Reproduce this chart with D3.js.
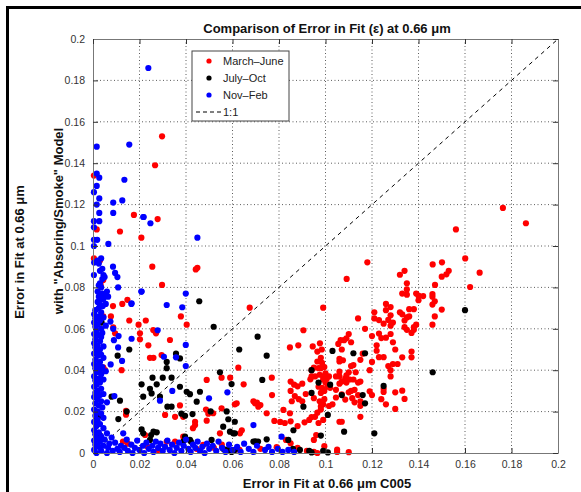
<!DOCTYPE html>
<html>
<head>
<meta charset="utf-8">
<script src="https://cdn.jsdelivr.net/npm/d3@7"></script>
<style>
	body { margin: 0; background: #fff; }
	svg { font-family: "Liberation Sans", Arial, Helvetica, sans-serif; }
	.tick text { fill: #333; font-size: 10.5px; }
</style>
</head>
<body>
<div id="chart"></div>
<script>
// tick values for both axes
var xTicks = [0, 0.02, 0.04, 0.06, 0.08, 0.1, 0.12, 0.14, 0.16, 0.18, 0.2];
var yTicks = [0, 0.02, 0.04, 0.06, 0.08, 0.1, 0.12, 0.14, 0.16, 0.18, 0.2];
var seriesNames = ["March\u2013June", "July\u2013Oct", "Nov\u2013Feb"];
var seriesColors = ["#ff0000", "#000000", "#0000ff"];

// March-June (red)
var marchJune = [
 [0.0297,0.153],[0.0267,0.139],[0.0004,0.134],[0.0176,0.115],[0.0278,0.113],[0.0016,0.108],[0.0116,0.107],[0.0208,0.104],
 [0.003,0.093],[0.0004,0.094],[0.0086,0.071],[0.0126,0.072],[0.0148,0.074],
 [0.0255,0.090],[0.0442,0.0887],[0.0449,0.0895],[0.0297,0.0812],
 [0.0674,0.0702],[0.099,0.0702],[0.0077,0.066],[0.0156,0.064],[0.0227,0.064],[0.0378,0.066],[0.0403,0.062],[0.0196,0.062],
 [0.0087,0.0607],[0.0095,0.0578],[0.0259,0.0594],[0.0271,0.0578],[0.0202,0.0578],[0.0202,0.0549],[0.0905,0.0593],[0.0238,0.052],
 [0.0331,0.0546],[0.0847,0.051],[0.0883,0.052],[0.0976,0.053],[0.0984,0.050],[0.0295,0.0473],[0.0245,0.046],[0.026,0.046],
 [0.0123,0.040],[0.0625,0.0412],[0.0489,0.0353],[0.0553,0.0364],[0.059,0.0364],[0.0648,0.0332],[0.0769,0.0364],
 [0.085,0.0345],[0.0865,0.033],[0.088,0.0322],[0.090,0.0335],[0.085,0.030],[0.0868,0.0275],[0.0885,0.026],[0.0915,0.0285],[0.090,0.025],[0.0855,0.025],
 [0.098,0.041],[0.1,0.0385],[0.099,0.0355],[0.097,0.032],[0.098,0.029],[0.0995,0.026],[0.098,0.0225],
 [0.0486,0.021],[0.0496,0.019],[0.069,0.025],[0.0705,0.0243],[0.072,0.0232],[0.077,0.028],[0.0517,0.0192],[0.0439,0.0151],
 [0.0439,0.0135],[0.0489,0.0156],[0.0142,0.0204],[0.0142,0.0185],[0.0374,0.023],[0.061,0.0235],[0.064,0.011],
 [0.078,0.0155],[0.0805,0.015],[0.0825,0.0145],[0.085,0.0153],[0.088,0.013],[0.091,0.0148],[0.093,0.016],[0.097,0.0145],[0.099,0.016],
 [0.083,0.0063],[0.085,0.0047],[0.0016,0.019],[0.0016,0.016],[0.0044,0.0414],[0.0052,0.040],[0.0044,0.0836],[0.0033,0.0812],
 [0.0044,0.066],[0.0129,0.0055],[0.043,0.012],[0.0819,0.0208],[0.0847,0.0192],
 [0.031,0.0184],[0.0353,0.0175],[0.0388,0.0175],[0.0553,0.0216],[0.0546,0.0095],[0.0632,0.0095],[0.0224,0.0087],
 [0.0317,0.0055],[0.0353,0.0055],[0.0388,0.0079],[0.0474,0.0039],[0.0618,0.024],[0.0697,0.024],[0.0711,0.0224],[0.0747,0.0192],[0.0554,0.004],
 [0.015,0.0045],[0.0235,0.003],[0.028,0.0015],[0.0445,0.002],[0.052,0.0025],[0.063,0.0015],[0.072,0.002],[0.079,0.0028],[0.088,0.0025],[0.092,0.001],
 [0.1862,0.111],[0.1561,0.108],[0.1763,0.1184],[0.118,0.0921],[0.1091,0.0841],[0.1601,0.094],[0.1663,0.0871],[0.1622,0.0802],
 [0.1461,0.0911],[0.1501,0.0921],[0.153,0.088],[0.152,0.0863],[0.150,0.0852],[0.1471,0.0812],[0.132,0.0861],[0.134,0.088],
 [0.135,0.082],[0.135,0.079],[0.133,0.077],[0.135,0.0765],[0.139,0.077],[0.140,0.076],[0.142,0.0758],[0.140,0.0738],
 [0.146,0.0768],[0.146,0.0755],[0.147,0.0733],[0.146,0.0717],[0.150,0.0693],[0.147,0.066],[0.146,0.062],
 [0.126,0.072],[0.128,0.0705],[0.126,0.069],[0.128,0.0665],[0.127,0.0643],[0.128,0.0615],[0.129,0.063],
 [0.132,0.068],[0.133,0.067],[0.134,0.064],[0.135,0.0655],[0.136,0.0695],[0.136,0.066],[0.135,0.0595],[0.134,0.0608],
 [0.138,0.0608],[0.138,0.0695],[0.138,0.0595],[0.139,0.062],[0.137,0.058],
 [0.121,0.068],[0.121,0.065],[0.123,0.0642],[0.125,0.0625],[0.114,0.065],[0.117,0.060],
 [0.110,0.0575],[0.111,0.0535],[0.108,0.0545],[0.1065,0.0545],[0.1055,0.0527],
 [0.120,0.0565],[0.123,0.0577],[0.124,0.0555],[0.126,0.0557],[0.128,0.0575],[0.129,0.0535],[0.130,0.050],
 [0.122,0.052],[0.122,0.0494],[0.123,0.0463],[0.125,0.0463],[0.127,0.042],[0.128,0.040],[0.129,0.043],[0.128,0.037],
 [0.131,0.043],[0.133,0.0462],[0.137,0.049],[0.137,0.0462],
 [0.120,0.044],[0.119,0.040],[0.115,0.045],[0.116,0.048],
 [0.111,0.042],[0.112,0.0425],[0.110,0.039],[0.109,0.0375],[0.113,0.039],[0.112,0.0355],[0.1105,0.0355],[0.114,0.034],[0.115,0.0345],[0.109,0.034],
 [0.106,0.0455],[0.106,0.0442],[0.1075,0.0448],[0.106,0.0393],[0.106,0.037],[0.107,0.0345],[0.1085,0.036],[0.106,0.0335],
 [0.1045,0.037],[0.1015,0.037],[0.1005,0.0357],[0.099,0.037],[0.0975,0.0378],[0.0955,0.037],[0.094,0.037],[0.0935,0.0356],
 [0.107,0.050],[0.109,0.0554],
 [0.0945,0.0515],[0.0965,0.049],[0.098,0.046],[0.0965,0.0442],[0.0985,0.0435],[0.0995,0.0415],[0.095,0.0412],[0.094,0.040],[0.097,0.041],
 [0.1,0.034],[0.0985,0.0315],[0.0995,0.030],[0.101,0.032],[0.102,0.0315],
 [0.110,0.0293],[0.111,0.030],[0.1125,0.0305],[0.114,0.028],[0.1115,0.0265],[0.1125,0.0245],[0.115,0.025],[0.115,0.0228],[0.115,0.0175],
 [0.119,0.0298],[0.120,0.028],[0.124,0.026],[0.126,0.0235],[0.125,0.031],[0.125,0.0295],
 [0.130,0.0293],[0.133,0.0301],[0.134,0.0261],[0.130,0.0213],
 [0.1045,0.0305],[0.1045,0.0268],[0.107,0.0283],[0.1085,0.0258],[0.103,0.0235],[0.1015,0.0227],[0.099,0.0235],[0.0975,0.025],
 [0.095,0.0265],[0.098,0.021],[0.0965,0.0195],[0.0955,0.0175],[0.094,0.0174],
 [0.106,0.0151],[0.107,0.0151],[0.096,0.0087],[0.095,0.0063],
 [0.0995,0.0033],[0.105,0.0016],[0.105,0.0005],[0.110,0.0004],[0.095,0.0005],[0.0965,0.0]
];

// July-Oct (black)
var julyOct = [
 [0.0457,0.0733],[0.0519,0.061],[0.0708,0.0562],[0.0629,0.050],[0.0747,0.047],[0.0156,0.050],[0.0106,0.047],[0.0357,0.048],
 [0.0317,0.044],[0.0374,0.0457],[0.0317,0.041],[0.0546,0.039],[0.0256,0.0364],[0.030,0.0364],[0.0338,0.0364],[0.0209,0.0332],
 [0.0245,0.031],[0.0274,0.0332],[0.0374,0.032],[0.0403,0.0296],[0.0417,0.0284],[0.046,0.0296],[0.0596,0.0333],[0.0728,0.0353],
 [0.0216,0.0272],[0.0252,0.0288],[0.0288,0.0272],[0.032,0.0224],[0.0338,0.0224],[0.038,0.019],[0.0396,0.018],[0.0116,0.0253],
 [0.0145,0.020],[0.0109,0.0164],[0.0428,0.0188],[0.0506,0.0201],[0.0575,0.0201],[0.0582,0.0163],[0.056,0.0127],[0.0603,0.0095],
 [0.0209,0.0114],[0.0274,0.010],[0.0245,0.0063],[0.0396,0.0079],[0.0421,0.0055],[0.051,0.0063],[0.069,0.0055],[0.070,0.0055],
 [0.0862,0.011],[0.084,0.0063],[0.0747,0.0066],[0.086,0.002],[0.089,0.0015],[0.093,0.001],[0.099,0.001],[0.056,0.002],[0.0575,0.0015],
 [0.003,0.018],[0.0016,0.017],[0.0037,0.063],[0.008,0.0272],[0.003,0.0085],
 [0.160,0.069],[0.1461,0.039],[0.103,0.0493],[0.112,0.0482],[0.117,0.0482],[0.094,0.040],[0.097,0.034],[0.102,0.033],
 [0.094,0.029],[0.107,0.028],[0.116,0.028],[0.117,0.024],[0.125,0.0324],[0.101,0.0184],[0.108,0.0103],[0.121,0.0095],
 [0.098,0.0084],[0.094,0.0003],[0.101,0.0003],[0.0905,0.0224],
 [0.0446,0.0248],[0.061,0.0151],[0.061,0.0095],[0.0589,0.0103],[0.0388,0.0055],[0.0417,0.0063],[0.025,0.0087],[0.026,0.0103],
 [0.0216,0.0095],[0.0697,0.0055],[0.071,0.0055],[0.061,0.0015],[0.0596,0.0005],[0.058,0.0015]
];

// Nov-Feb (blue)
var novFeb = [
 [0.0238,0.186],[0.0156,0.149],[0.0016,0.148],[0.0016,0.135],[0.0027,0.133],[0.0135,0.132],[0.0016,0.129],[0.0004,0.126],
 [0.0027,0.123],[0.0016,0.120],[0.0087,0.121],[0.0126,0.122],[0.0027,0.116],[0.0087,0.116],[0.0216,0.114],[0.0247,0.111],
 [0.0004,0.112],[0.0027,0.112],[0.0004,0.109],[0.0004,0.103],[0.0018,0.103],[0.0066,0.101],[0.0004,0.100],[0.0449,0.104],[0.0218,0.114],
 [0.0035,0.094],[0.002,0.093],[0.0005,0.092],[0.0025,0.0915],[0.0086,0.090],[0.004,0.089],[0.003,0.088],[0.0004,0.086],
 [0.0045,0.086],[0.005,0.085],[0.004,0.084],[0.0095,0.087],[0.003,0.082],[0.0025,0.081],[0.0035,0.080],[0.0108,0.080],
 [0.002,0.078],[0.004,0.077],[0.005,0.076],[0.006,0.078],[0.0065,0.0755],[0.0208,0.078],[0.0025,0.0755],[0.0035,0.074],
 [0.0045,0.0745],[0.002,0.073],[0.0055,0.072],[0.003,0.0715],[0.0042,0.071],[0.0025,0.070],[0.0165,0.072],
 [0.0209,0.078],[0.0399,0.077],[0.0317,0.0715],[0.0384,0.0704],[0.0166,0.0723],[0.0278,0.0593],[0.0166,0.0552],[0.0399,0.0522],
 [0.0305,0.0465],[0.0357,0.0462],[0.0399,0.042],[0.0076,0.0428],[0.0108,0.051],[0.0087,0.060],[0.0341,0.030],[0.0288,0.0253],
 [0.0499,0.0264],[0.0578,0.0293],[0.0092,0.0275],[0.069,0.0135],[0.0811,0.0079],[0.013,0.0095],[0.0105,0.085],
 [0.0075,0.0635],[0.009,0.0545],[0.0125,0.0445],[0.011,0.0565],
 [0.001,0.069],[0.0035,0.068],[0.0005,0.067],[0.0025,0.066],[0.0045,0.0655],[0.001,0.065],[0.003,0.064],[0.0005,0.063],
 [0.002,0.062],[0.0055,0.0615],[0.001,0.061],[0.0035,0.060],[0.0015,0.059],[0.004,0.058],[0.0005,0.0575],[0.0025,0.057],
 [0.0035,0.056],[0.001,0.055],[0.003,0.054],[0.0005,0.053],[0.002,0.052],[0.0045,0.0515],[0.001,0.051],[0.003,0.050],
 [0.0015,0.049],[0.0005,0.048],[0.0035,0.0475],[0.002,0.047],[0.0045,0.046],[0.001,0.045],[0.003,0.044],[0.0005,0.043],
 [0.002,0.042],[0.004,0.0415],[0.001,0.041],[0.003,0.040],[0.0055,0.0395],[0.0015,0.039],[0.0035,0.038],[0.0005,0.037],
 [0.0025,0.036],[0.0045,0.0355],[0.001,0.035],[0.003,0.034],[0.0015,0.033],[0.0005,0.032],[0.0035,0.031],[0.002,0.030],
 [0.001,0.029],[0.0045,0.0285],[0.003,0.028],[0.0005,0.027],[0.002,0.026],[0.0035,0.025],[0.006,0.0245],[0.001,0.024],
 [0.0025,0.023],[0.004,0.022],[0.0005,0.021],[0.002,0.020],[0.0035,0.019],[0.001,0.018],[0.0045,0.017],[0.002,0.016],
 [0.0005,0.015],[0.003,0.014],[0.0015,0.013],[0.0045,0.012],[0.0005,0.011],[0.0025,0.010],[0.006,0.0095],[0.001,0.009],
 [0.0035,0.008],[0.008,0.0075],[0.0015,0.007],[0.005,0.0065],[0.0005,0.006],[0.003,0.0055],[0.0095,0.005],[0.007,0.0045],
 [0.001,0.004],[0.0045,0.0035],[0.012,0.0035],[0.0025,0.003],[0.0065,0.0025],[0.0105,0.002],[0.0005,0.0015],[0.0035,0.001],
 [0.0085,0.001],[0.0015,0.0],[0.006,0.0],[0.0115,0.0005],
 [0.0135,0.0025],[0.0145,0.0065],[0.015,0.001],[0.0165,0.004],[0.017,0.0],[0.018,0.0025],[0.019,0.006],[0.020,0.0015],
 [0.0215,0.0035],[0.022,0.0],[0.023,0.005],[0.024,0.002],[0.0255,0.0035],[0.026,0.0005],[0.027,0.0055],[0.028,0.0025],
 [0.029,0.0045],[0.030,0.001],[0.031,0.003],[0.032,0.006],[0.033,0.0015],[0.034,0.004],[0.035,0.0],[0.036,0.0025],
 [0.037,0.005],[0.038,0.001],[0.039,0.0035],[0.040,0.0065],[0.041,0.002],[0.042,0.0005],[0.043,0.004],[0.044,0.0025],
 [0.045,0.0055],[0.046,0.001],[0.047,0.003],[0.048,0.0],[0.049,0.0045],[0.050,0.002],[0.0515,0.0035],[0.053,0.001],
 [0.054,0.0055],[0.0555,0.0025],[0.057,0.0005],[0.0585,0.004],[0.060,0.0015],[0.062,0.003],[0.0635,0.0005],[0.065,0.0045],
 [0.067,0.002],[0.069,0.0005],[0.0705,0.0035],[0.074,0.0015],[0.0755,0.003],[0.077,0.0005],[0.0795,0.002],[0.0815,0.0005],
 [0.084,0.0015],[0.0865,0.0005]
];

var W = 581, H = 492;
var x = d3.scaleLinear().domain([0, 0.2]).range([93, 558]);
var y = d3.scaleLinear().domain([0, 0.2]).range([453, 39]);

var svg = d3.select("#chart").append("svg").attr("width", W).attr("height", H);

// figure frame (only top and left edges visible)
svg.append("path").attr("d", "M7.5," + H + "V7.5H" + W)
	.attr("fill", "none").attr("stroke", "#000").attr("stroke-width", 3);

// grid
var grid = svg.append("g").attr("stroke", "#333").attr("stroke-width", 0.8).attr("stroke-dasharray", "1,2.5");
grid.selectAll(".gx").data(xTicks.slice(1, -1)).enter().append("line")
	.attr("x1", d => x(d)).attr("x2", d => x(d)).attr("y1", y(0)).attr("y2", y(0.2));
grid.selectAll(".gy").data(yTicks.slice(1, -1)).enter().append("line")
	.attr("y1", d => y(d)).attr("y2", d => y(d)).attr("x1", x(0)).attr("x2", x(0.2));

// 1:1 line
svg.append("line").attr("x1", x(0)).attr("y1", y(0)).attr("x2", x(0.2)).attr("y2", y(0.2))
	.attr("stroke", "#000").attr("stroke-width", 1).attr("stroke-dasharray", "4,4");

// points
var all = [marchJune, julyOct, novFeb];
all.forEach(function(s, i) {
	svg.append("g").selectAll("circle").data(s).enter().append("circle")
		.attr("cx", d => x(d[0])).attr("cy", d => y(d[1])).attr("r", 3.1)
		.attr("fill", seriesColors[i]);
});

// axes (ticks inside on all four sides)
var fmt = d3.format("~g");
function styleAxis(g) {
	g.select(".domain").attr("stroke", "#777");
	g.selectAll(".tick line").attr("stroke", "#333");
	g.selectAll(".tick text").attr("font-family", null).attr("font-size", null);
}
svg.append("g").attr("transform", "translate(0," + y(0) + ")")
	.call(d3.axisBottom(x).tickValues(xTicks).tickFormat(fmt).tickSizeInner(-5).tickSizeOuter(0).tickPadding(8))
	.call(styleAxis);
svg.append("g").attr("transform", "translate(" + x(0) + ",0)")
	.call(d3.axisLeft(y).tickValues(yTicks).tickFormat(fmt).tickSizeInner(-5).tickSizeOuter(0).tickPadding(8))
	.call(styleAxis);
svg.append("g").attr("transform", "translate(0," + y(0.2) + ")")
	.call(d3.axisTop(x).tickValues(xTicks).tickFormat("").tickSizeInner(-5).tickSizeOuter(0))
	.call(styleAxis);
svg.append("g").attr("transform", "translate(" + x(0.2) + ",0)")
	.call(d3.axisRight(y).tickValues(yTicks).tickFormat("").tickSizeInner(-5).tickSizeOuter(0))
	.call(styleAxis);

// titles
svg.append("text").attr("x", 327).attr("y", 33).attr("text-anchor", "middle")
	.attr("font-size", "13px").attr("font-weight", "bold").attr("fill", "#111")
	.text("Comparison of Error in Fit (\u03b5) at 0.66 \u03bcm");
svg.append("text").attr("x", 327).attr("y", 488).attr("text-anchor", "middle")
	.attr("font-size", "13px").attr("font-weight", "bold").attr("fill", "#111")
	.text("Error in Fit at 0.66 \u03bcm C005");
svg.append("text").attr("transform", "translate(24,252) rotate(-90)").attr("text-anchor", "middle")
	.attr("font-size", "13px").attr("font-weight", "bold").attr("fill", "#111")
	.text("Error in Fit at 0.66 \u03bcm");
svg.append("text").attr("transform", "translate(63,221) rotate(-90)").attr("text-anchor", "middle")
	.attr("font-size", "13px").attr("font-weight", "bold").attr("fill", "#111")
	.text("with \"Absoring/Smoke\" Model");

// legend
var leg = svg.append("g").attr("transform", "translate(192,51)");
leg.append("rect").attr("width", 97).attr("height", 70).attr("fill", "#fff").attr("stroke", "#444").attr("stroke-width", 1);
seriesNames.forEach(function(n, i) {
	leg.append("circle").attr("cx", 17).attr("cy", 10 + i * 17).attr("r", 2.6).attr("fill", seriesColors[i]);
	leg.append("text").attr("x", 31).attr("y", 14 + i * 17).attr("font-size", "11px").attr("fill", "#222").text(n);
});
leg.append("line").attr("x1", 4).attr("x2", 29).attr("y1", 61).attr("y2", 61)
	.attr("stroke", "#000").attr("stroke-dasharray", "4,3");
leg.append("text").attr("x", 31).attr("y", 65).attr("font-size", "11px").attr("fill", "#222").text("1:1");
</script>
</body>
</html>
